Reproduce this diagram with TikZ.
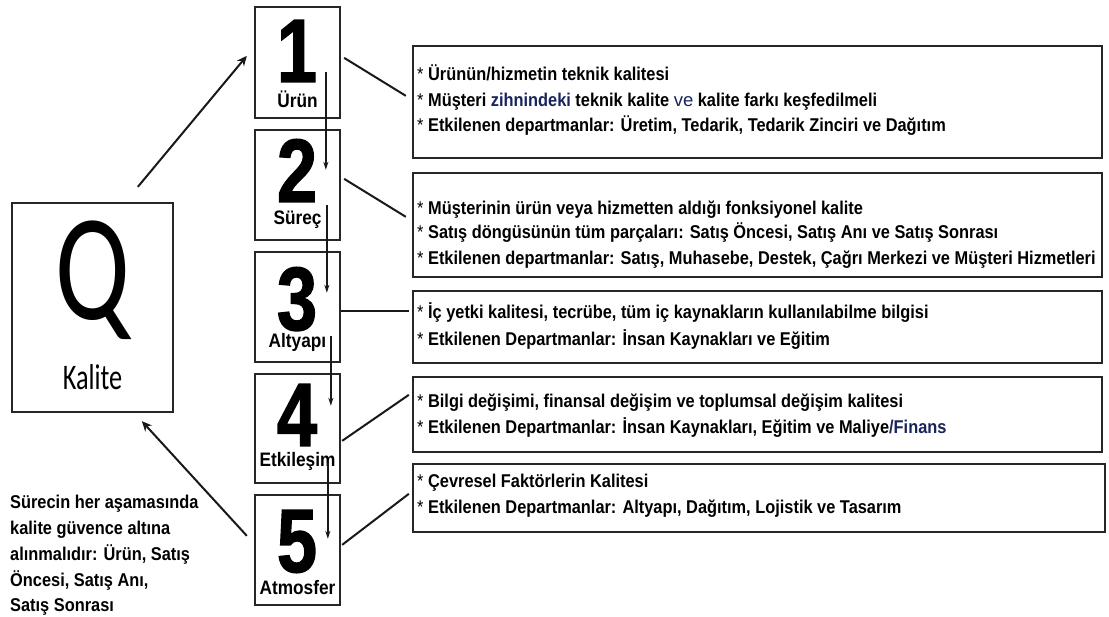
\documentclass[tikz,border=0pt]{standalone}
\usepackage{fontspec}
\usetikzlibrary{arrows.meta,calc}
% narrow faces used throughout the chart
\newfontfamily\nb{Liberation Sans Bold}[FakeStretch=0.885]
\newfontfamily\nr{Liberation Sans}[FakeStretch=0.885]
\newfontfamily\wide{Liberation Sans}
\newfontfamily\digitfont{Liberation Sans Bold}[FakeStretch=0.8,FakeBold=1.5]
\newfontfamily\qfont{Carlito}[FakeStretch=0.73]
\definecolor{navytext}{rgb}{0.10,0.14,0.36}
\newcommand{\st}{{\nr *}\ }
\begin{document}
\begin{tikzpicture}[x=1pt,y=-1pt,
  frame/.style={draw=black!85,line width=2.3pt,inner sep=0pt},
  numbox/.style={frame,minimum width=85pt},
  infobox/.style={frame,minimum width=689pt},
  bigdigit/.style={anchor=base,inner sep=0pt,font=\digitfont\fontsize{90}{90}\selectfont},
  steplabel/.style={anchor=base,inner sep=0pt,font=\nb\fontsize{19.5}{22}\selectfont},
  infoline/.style={anchor=base west,inner sep=0pt,font=\nb\fontsize{18.5}{22}\selectfont},
  noteline/.style={anchor=base west,inner sep=0pt,font=\nb\fontsize{18.5}{22}\selectfont},
  link/.style={line width=2pt,black!90},
  bigarrow/.style={line width=2pt,black!90,-{Stealth[length=10pt,width=9pt]}},
  flow/.style={line width=1.3pt,black!90,-{Stealth[length=8pt,width=5pt]}}]
\useasboundingbox (0,0) rectangle (1109,617);
\fill[white] (0,0) rectangle (1109,617);

% quality box
\node[frame,minimum width=161pt,minimum height=209pt] (q) at (92.5,307.5) {};
\node[anchor=base,inner sep=0pt,font=\qfont\fontsize{152}{152}\selectfont] (qletter) at (92.5,320) {Q};
\node[anchor=base,inner sep=0pt,font=\qfont\fontsize{36}{40}\selectfont] (qname) at (92.5,390) {Kalite};

% numbered steps
\node[numbox,minimum height=111pt] (b1) at (297.5,62.5) {};
\node[numbox,minimum height=110pt] (b2) at (297.5,185) {};
\node[numbox,minimum height=110pt] (b3) at (297.5,307) {};
\node[numbox,minimum height=109pt] (b4) at (297.5,428.5) {};
\node[numbox,minimum height=110pt] (b5) at (297.5,550) {};

\node[bigdigit] (d1) at (297,82) {1};
\node[bigdigit] (d2) at (297,202) {2};
\node[bigdigit] (d3) at (297,330) {3};
\node[bigdigit] (d4) at (297,446) {4};
\node[bigdigit] (d5) at (297,572) {5};

\node[steplabel] (s1) at (297.5,108) {Ürün};
\node[steplabel] (s2) at (297.5,225) {Süreç};
\node[steplabel] (s3) at (297.5,348) {Altyapı};
\node[steplabel] (s4) at (297.5,467) {Etkileşim};
\node[steplabel] (s5) at (297.5,594) {Atmosfer};

% description boxes
\node[infobox,minimum height=112pt] (t1) at (757.5,102) {};
\node[infobox,minimum height=104pt] (t2) at (757.5,225) {};
\node[infobox,minimum height=72pt] (t3) at (757.5,327) {};
\node[infobox,minimum height=75pt] (t4) at (757.5,414.5) {};
\node[infobox,minimum width=692pt,minimum height=68pt] (t5) at (759,498) {};

\node[infoline] (t1a) at (417,81) {\st Ürünün/hizmetin teknik kalitesi};
\node[infoline] (t1b) at (417,107) {\st Müşteri {\color{navytext}zihnindeki} teknik kalite {\wide\color{navytext} ve} kalite farkı keşfedilmeli};
\node[infoline] (t1c) at (417,132) {\st Etkilenen departmanlar: Üretim, Tedarik, Tedarik Zinciri ve Dağıtım};

\node[infoline] (t2a) at (417,215) {\st Müşterinin ürün veya hizmetten aldığı fonksiyonel kalite};
\node[infoline] (t2b) at (417,239) {\st Satış döngüsünün tüm parçaları: Satış Öncesi, Satış Anı ve Satış Sonrası};
\node[infoline] (t2c) at (417,265) {\st Etkilenen departmanlar: Satış, Muhasebe, Destek, Çağrı Merkezi ve Müşteri Hizmetleri};

\node[infoline] (t3a) at (417,319) {\st İç yetki kalitesi, tecrübe, tüm iç kaynakların kullanılabilme bilgisi};
\node[infoline] (t3b) at (417,346) {\st Etkilenen Departmanlar: İnsan Kaynakları ve Eğitim};

\node[infoline] (t4a) at (417,408) {\st Bilgi değişimi, finansal değişim ve toplumsal değişim kalitesi};
\node[infoline] (t4b) at (417,434) {\st Etkilenen Departmanlar: İnsan Kaynakları, Eğitim ve Maliye{\color{navytext}/Finans}};

\node[infoline] (t5a) at (417,488) {\st Çevresel Faktörlerin Kalitesi};
\node[infoline] (t5b) at (417,513) {\st Etkilenen Departmanlar: Altyapı, Dağıtım, Lojistik ve Tasarım};

% note at the lower left
\node[noteline] (n1) at (10,508) {Sürecin her aşamasında};
\node[noteline] (n2) at (10,534) {kalite güvence altına};
\node[noteline] (n3) at (10,560) {alınmalıdır: Ürün, Satış};
\node[noteline] (n4) at (10,586) {Öncesi, Satış Anı,};
\node[noteline] (n5) at (10,611) {Satış Sonrası};

% steps to descriptions
\draw[link] ($(b1.north east)+(3,52)$) -- ($(t1.north west)+(-6,51)$);
\draw[link] ($(b2.north east)+(3,50)$) -- ($(t2.north west)+(-6,45)$);
\draw[link] ($(b3.north east)+(0,60)$) -- ($(t3.north west)+(-3,21)$);
\draw[link] ($(b4.north east)+(1,68)$) -- ($(t4.north west)+(-3,19)$);
\draw[link] ($(b5.north east)+(1,51)$) -- ($(t5.north west)+(-3,31)$);

% cycle arrows
\draw[bigarrow] ($(q.north west)+(127,-15)$) -- ($(b1.north west)+(-7,50)$);
\draw[bigarrow] ($(b5.north west)+(-7,42)$) -- ($(q.south west)+(131,8)$);

% flow between steps
\draw[flow] ($(b1.north west)+(72,66)$) -- ($(b2.north west)+(72,41)$);
\draw[flow] ($(b2.north west)+(73,76)$) -- ($(b3.north west)+(73,42)$);
\draw[flow] ($(b3.north west)+(77,85)$) -- ($(b4.north west)+(77,33)$);
\draw[flow] ($(b4.north west)+(74,90)$) -- ($(b5.north west)+(74,45)$);
\end{tikzpicture}
\end{document}
